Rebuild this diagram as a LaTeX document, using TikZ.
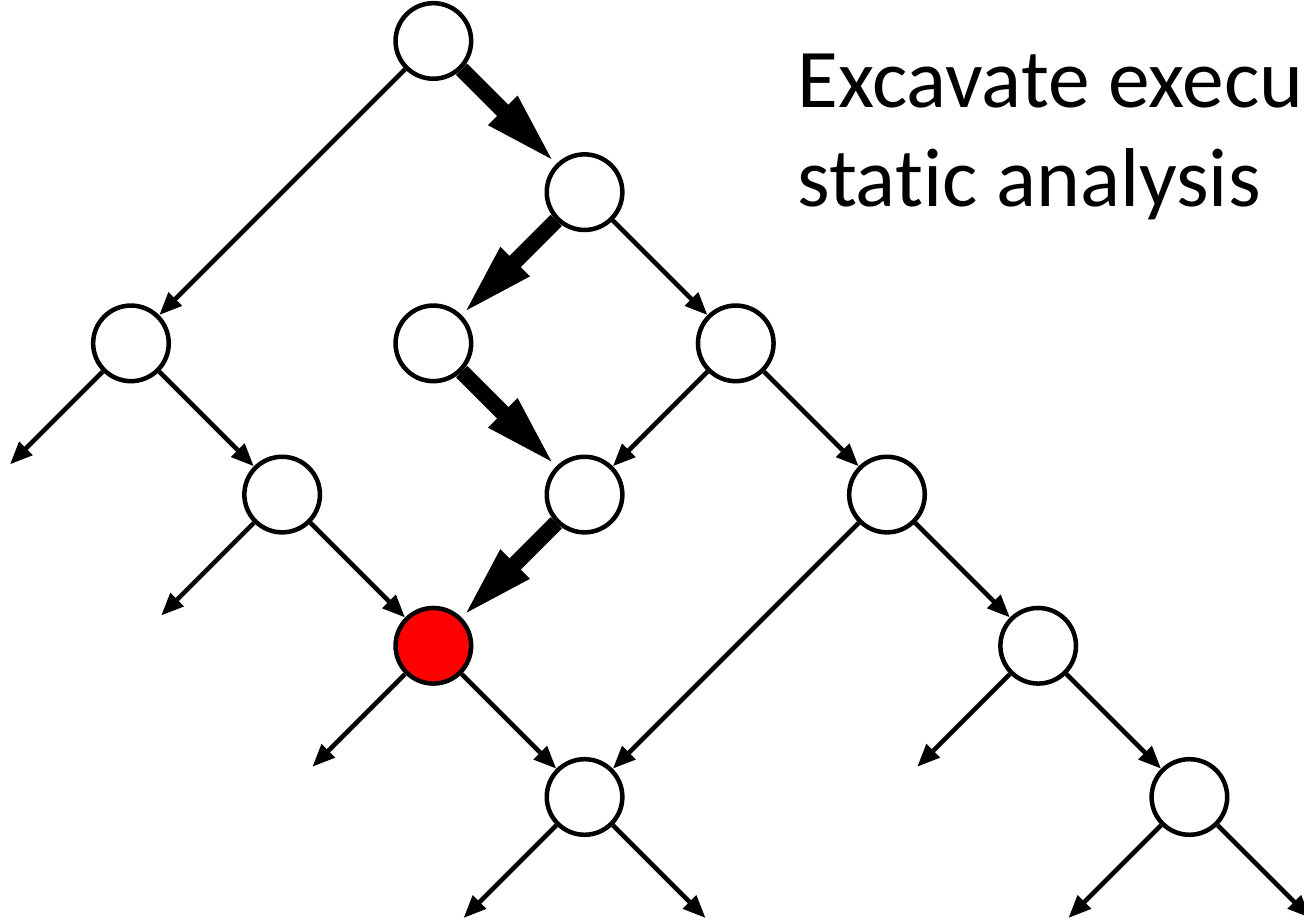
\documentclass[tikz,border=0pt]{standalone}
\usepackage{fontspec}
\setmainfont[Ligatures=NoCommon]{Carlito}
\usetikzlibrary{arrows.meta}

\begin{document}
\begin{tikzpicture}[
    state/.style={circle,draw,line width=0.85pt,fill=white,minimum size=0.5cm,inner sep=0pt},
    edge/.style={line width=0.85pt,-{Triangle[length=0.15cm,width=0.12cm]}},
    hot/.style={line width=3pt,-{Triangle[length=0.5cm,width=0.24cm]}}]
    \clip (-0.866,0.271) rectangle (7.758,-5.840);
    % states of the tree
    \foreach \n/\x/\y in {
      A/2/0, B/3/-1, C/0/-2, D/2/-2, E/4/-2, F/1/-3,
      G/3/-3, H/5/-3, I/6/-4, J/3/-5, K/7/-5}{
      \node[state] (\n) at (\x,\y) {};
    }
    \node[state,fill=red] (R) at (2,-4) {};
    % ordinary branches
    \foreach \a/\b in {A/C, B/E, C/F, E/G, E/H, F/R, H/J, H/I, R/J, I/K}{
      \draw[edge] (\a) -- (\b);
    }
    % branches that lead nowhere shown
    \foreach \n/\d/\s in {C/l/-1, F/l/-1, R/l/-1, I/l/-1,
      J/l/-1, J/r/1, K/l/-1, K/r/1}{
      \coordinate (\n\d) at ([shift={(\s*0.8,-0.8)}]\n.center);
      \draw[edge] (\n) -- (\n\d);
    }
    % the excavated path
    \foreach \a/\b in {A/B, B/D, D/G, G/R}{
      \draw[hot] (\a) -- (\b);
    }
    \node[anchor=base west,align=left,inner sep=0pt,
      font=\fontsize{15.7pt}{18.8pt}\selectfont] (note) at (4.40,-1.098)
      {Excavate execution\\static analysis};
\end{tikzpicture}
\end{document}
